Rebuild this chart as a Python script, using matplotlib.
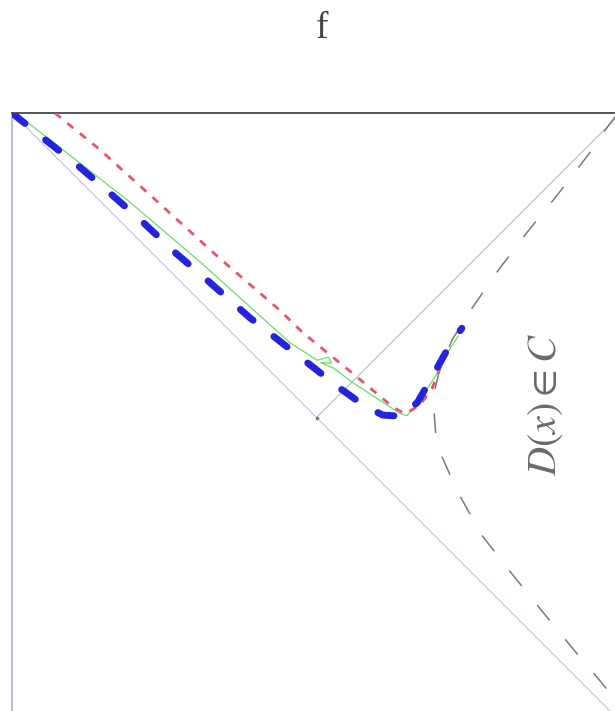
import numpy as np
import matplotlib
matplotlib.use("Agg")
import matplotlib.pyplot as plt

plt.rcParams['mathtext.fontset'] = 'stix'

# diagonal boundary and the perpendicular (light solid lines)
diag_x = [0.0, 10.2]
diag_y = [10.0, -0.2]
perp_x = [5.05, 10.2]
perp_y = [4.95, 10.1]

# gray dashed curve (upper branch -> vertex -> lower branch)
gray_x = [10.05, 9.75, 9.62, 9.02, 8.51, 8.04, 7.60, 7.30, 7.10, 7.01, 7.00,
          7.03, 7.13, 7.40, 7.79, 8.28, 8.79, 9.29, 9.78, 10.1]
gray_y = [10.00, 9.60, 9.39, 8.61, 7.98, 7.36, 6.72, 6.24, 5.77, 5.41, 5.04,
          4.63, 4.30, 3.70, 3.00, 2.37, 1.74, 1.13, 0.55, 0.15]

# blue thick dashed
blue_x = [0.00, 0.51, 1.08, 1.66, 2.17, 2.70, 3.20, 3.95, 4.73, 5.05, 5.39,
          5.85, 6.15, 6.48, 6.73, 7.01, 7.26, 7.46]
blue_y = [10.00, 9.59, 9.14, 8.64, 8.19, 7.69, 7.26, 6.60, 5.99, 5.74, 5.47,
          5.14, 4.99, 4.97, 5.21, 5.70, 6.15, 6.43]

# red short dashes
red_x = [0.71, 1.46, 2.29, 3.42, 4.44, 4.83, 5.64, 6.32, 6.52, 6.77, 6.97, 7.11]
red_y = [10.00, 9.39, 8.64, 7.61, 6.73, 6.35, 5.69, 5.12, 5.01, 5.16, 5.44, 5.80]

# green thin line
green_x = [0.00, 0.25, 1.91, 3.12, 4.61, 5.06, 5.25, 5.30, 5.12, 5.33, 5.65,
           6.43, 6.55, 6.77, 7.05, 7.25, 7.40]
green_y = [10.00, 9.85, 8.56, 7.53, 6.19, 5.90, 5.95, 5.85, 5.86, 5.77, 5.53,
           5.02, 4.98, 5.25, 5.68, 6.07, 6.30]

fig = plt.figure(figsize=(6.15, 7.11), dpi=100)
# axes runs a little past the bottom edge of the picture
ax = fig.add_axes([12/615, -5/711, 603/615, 603/711])
ax.set_xlim(0, 10)
ax.set_ylim(0, 10)

ax.plot(diag_x, diag_y, color='#c4c4ec', lw=0.9, clip_on=False)
ax.plot(perp_x, perp_y, color='#c2c2c2', lw=0.9, marker='.', markersize=3,
        markevery=[0], mfc='#777777', mec='#777777')
ax.plot(gray_x, gray_y, color='#7a7a7a', lw=1.1, dashes=(13, 16))
ax.plot(green_x, green_y, color='#66e066', lw=0.9, zorder=3)
ax.plot(red_x, red_y, color='#e8546a', lw=2.0, dashes=(2.8, 3.0), zorder=4)
ax.plot(blue_x, blue_y, color='#2424dd', lw=5, dashes=(2.4, 3.8),
        dash_capstyle='round', zorder=5)

ax.text(8.84, 5.16, r'$D(x) \in C$', rotation=90, ha='center', va='center',
        fontsize=29, color='#6a6a6a')

for s in ['right', 'bottom']:
    ax.spines[s].set_visible(False)
ax.spines['top'].set_color('#555555')
ax.spines['top'].set_linewidth(1.4)
ax.spines['left'].set_color('#b8b8e6')
ax.spines['left'].set_linewidth(1.4)
ax.set_xticks([])
ax.set_yticks([])

fig.text(322/615, 1 - 29/711, 'f', ha='center', va='center', fontsize=27,
         family='Liberation Serif', color='#444444')

fig.savefig('out.png', dpi=100)
